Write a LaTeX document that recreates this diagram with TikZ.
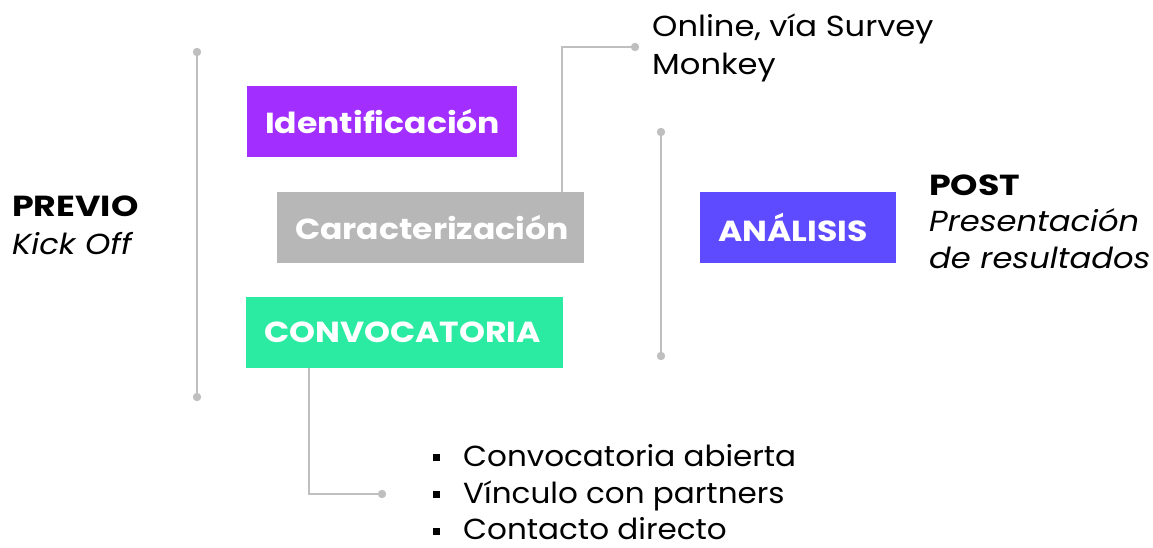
\documentclass[tikz,border=0pt]{standalone}
\usepackage{fontspec}
\setmainfont{Poppins}
\newfontfamily\regA[FakeStretch=1.11]{Poppins}
\newfontfamily\regB[FakeStretch=1.07]{Poppins}
\newfontfamily\boldA[FakeStretch=1.14]{Poppins}
\newfontfamily\boldB[FakeStretch=1.2]{Poppins}
\definecolor{linegray}{HTML}{BFBFBF}
\definecolor{cpurple}{HTML}{A22EFF}
\definecolor{cgray}{HTML}{B7B7B7}
\definecolor{cgreen}{HTML}{2BEBA3}
\definecolor{cviolet}{HTML}{5E4AFF}
\begin{document}
\begin{tikzpicture}[x=1pt,y=-1pt,
  stagebox/.style={rectangle, inner xsep=18pt, inner ysep=0pt, minimum height=71pt,
     text=white, align=left, font=\fontsize{29}{34}\boldA\bfseries, anchor=center},
  conn/.style={draw=linegray, line width=2pt},
  dotc/.style={fill=linegray},
  txt/.style={anchor=base west, inner sep=0pt, font=\fontsize{29}{34}\regA},
  ltxt/.style={txt, text depth=0pt, font=\fontsize{29}{34}\regB},
  btxt/.style={txt, font=\fontsize{29}{34}\boldB\bfseries},
  itxt/.style={txt, font=\fontsize{29}{34}\regA\itshape},
  bullet/.style={rectangle, fill=black, minimum size=7pt, inner sep=0pt}]
\useasboundingbox (0,0) rectangle (1153,547);

% timelines
\coordinate (t1a) at (197,52);
\coordinate (t1b) at (197,397);
\draw[conn] (t1a) -- (t1b);
\fill[dotc] (t1a) circle (4.2);
\fill[dotc] (t1b) circle (4.2);
\coordinate (t2a) at (661,132);
\coordinate (t2b) at (661,356);
\draw[conn] (t2a) -- (t2b);
\fill[dotc] (t2a) circle (4.2);
\fill[dotc] (t2b) circle (4.2);

% boxes
\node[stagebox, fill=cpurple, text width=234pt] (ident) at (382,121.5) {Identificación};
\node[stagebox, fill=cgray, text width=271pt] (carac) at (430.5,227.5) {Caracterización};
\node[stagebox, fill=cgreen, text width=281pt] (convo) at (404.5,332.5) {CONVOCATORIA};
\node[stagebox, fill=cviolet, text width=160pt] (anal) at (798,227.5) {ANÁLISIS};

% connectors
\coordinate (onl) at (635,47);
\draw[conn] ([xshift=285pt]carac.north west) |- (onl);
\fill[dotc] (onl) circle (4.2);
\coordinate (cv) at (382,494);
\draw[conn] ([xshift=63pt]convo.south west) |- (cv);
\fill[dotc] (cv) circle (4.2);

% texts
\node[txt] (on1) at (652,36) {Online, vía Survey};
\node[txt] (on2) at (652,74) {Monkey};
\node[btxt] (prev) at (12,216) {PREVIO};
\node[itxt] (kick) at (12,254) {Kick Off};
\node[btxt] (post) at (929,195) {POST};
\node[itxt] (pres) at (929,231) {Presentación};
\node[itxt] (resu) at (929,268) {de resultados};

\node[bullet] (b1) at (436,457) {};
\node[bullet] (b2) at (436,494.5) {};
\node[bullet] (b3) at (436,531.5) {};
\node[ltxt] (l1) at (463,466.5) {Convocatoria abierta};
\node[ltxt] (l2) at (463,503.5) {Vínculo con partners};
\node[ltxt] (l3) at (463,539.5) {Contacto directo};
\end{tikzpicture}
\end{document}
